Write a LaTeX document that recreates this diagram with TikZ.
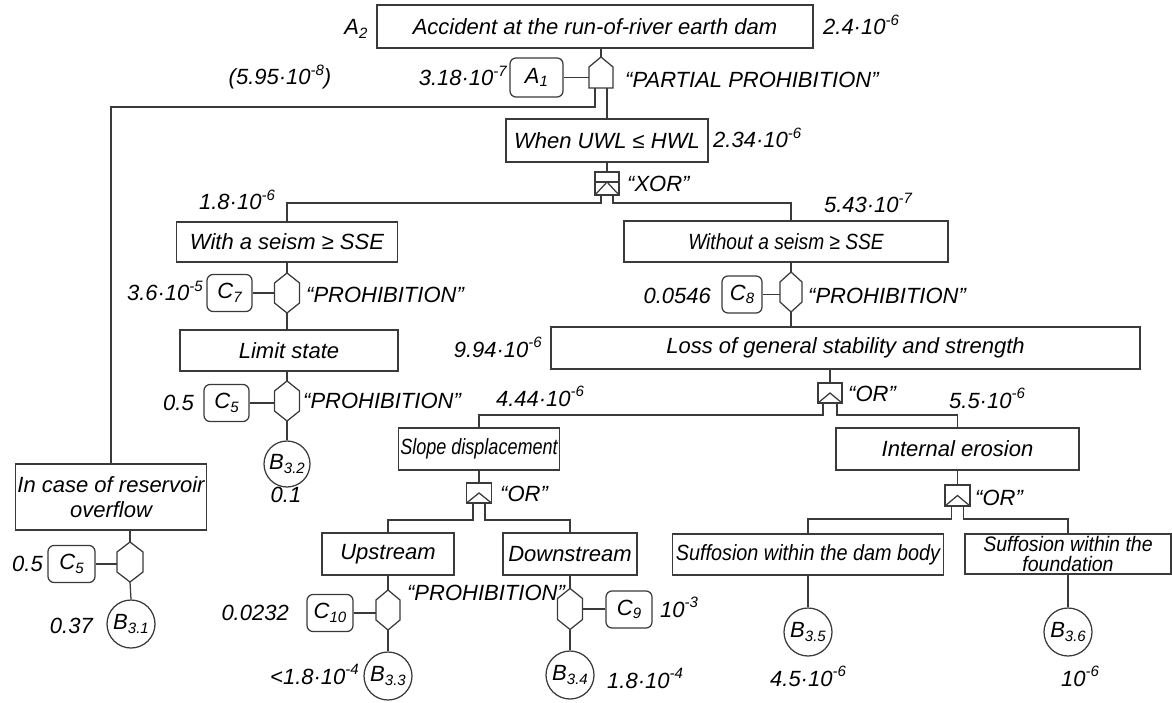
\documentclass[tikz,border=0pt]{standalone}
\usepackage{fontspec}
\usepackage{graphicx}
\setmainfont{Liberation Sans}
\usetikzlibrary{calc}
\definecolor{linec}{HTML}{3A3A3A}
% small lowered index and raised exponent
\newcommand\sbx[1]{\raisebox{-0.3ex}{\fontsize{15}{15}\selectfont #1}}
\newcommand\spx[1]{\raisebox{0.85ex}{\fontsize{15}{15}\selectfont #1}}
% horizontally condensed text
\newcommand\narrow[2]{\scalebox{#1}[1]{#2}}
% gate outlines drawn on invisible placeholder nodes
\newcommand\hexshape[1]{\draw[ln] (#1.north) -- ([yshift=-10pt]#1.north east) -- ([yshift=10pt]#1.south east) -- (#1.south) -- ([yshift=10pt]#1.south west) -- ([yshift=-10pt]#1.north west) -- cycle;}
\newcommand\orshape[1]{\draw[ln] (#1.south west) rectangle (#1.north east); \draw[ln] (#1.south west) -- (#1.center) -- (#1.south east);}
\newcommand\xorshape[1]{\draw[ln] (#1.south west) rectangle (#1.north east); \draw[ln] ([yshift=-10pt]#1.north west) -- ([yshift=-10pt]#1.north east); \draw[ln] (#1.south west) -- ([yshift=-10pt]#1.north) -- (#1.south east);}
\newcommand\houseshape[1]{\draw[ln] (#1.north) -- ([yshift=-10pt]#1.north east) -- (#1.south east) -- (#1.south west) -- ([yshift=-10pt]#1.north west) -- cycle;}
\tikzset{
  ln/.style={draw=linec, line width=1.25pt},
  ev/.style={draw=linec, line width=1.25pt, inner sep=0pt, align=center,
    font=\itshape\fontsize{22}{25}\selectfont},
  cb/.style={draw=linec, line width=1.25pt, rounded corners=6pt, minimum width=45pt,
    minimum height=37pt, inner sep=0pt, font=\itshape\fontsize{22}{25}\selectfont},
  bc/.style={draw=linec, line width=1.25pt, circle, minimum size=48pt, inner sep=0pt,
    font=\itshape\fontsize{22}{25}\selectfont},
  gt/.style={inner sep=0pt, outer sep=0pt},
  lb/.style={inner sep=0pt, text height=16pt, text depth=0pt,
    font=\itshape\fontsize{22}{25}\selectfont},
}
\begin{document}
\begin{tikzpicture}[x=1pt,y=-1pt]
\useasboundingbox[fill=white] (0,0) rectangle (1172,703);

% events
\node[ev, minimum width=436pt, minimum height=43pt] (top) at (595,26.5) {Accident at the run-of-river earth dam};
\node[ev, minimum width=202pt, minimum height=43pt] (uwl) at (607,140.5) {When UWL ≤ HWL};
\node[ev, minimum width=221pt, minimum height=40pt] (with) at (287,242) {With a seism ≥ SSE};
\node[ev, minimum width=324pt, minimum height=41pt] (without) at (786,241.5) {\narrow{0.87}{Without a seism ≥ SSE}};
\node[ev, minimum width=218pt, minimum height=41pt] (limit) at (289,350.5) {Limit state};
\node[ev, minimum width=589pt, minimum height=42pt] (loss) at (845.5,348) {Loss of general stability and strength};
\node[ev, minimum width=161pt, minimum height=42pt] (slope) at (479,449) {\narrow{0.82}{Slope displacement}};
\node[ev, minimum width=243pt, minimum height=42pt] (inter) at (957.5,449) {Internal erosion};
\node[ev, minimum width=132pt, minimum height=42pt] (up) at (388,554) {Upstream};
\node[ev, minimum width=134pt, minimum height=42pt] (down) at (570,554) {Downstream};
\node[ev, minimum width=271pt, minimum height=41pt] (sbody) at (808,554.5) {\narrow{0.9}{Suffosion within the dam body}};
\node[ev, minimum width=206pt, minimum height=40pt, font=\itshape\fontsize{21}{20}\selectfont] (sfound) at (1068,554) {\narrow{0.93}{Suffosion within the}\\\narrow{0.93}{foundation}};
\node[ev, minimum width=191pt, minimum height=66pt] (over) at (111,497) {In case of reservoir\\overflow};

% gates
\node[gt, minimum width=24pt, minimum height=31pt] (pg) at (601,72.5) {};
\node[gt, minimum width=24pt, minimum height=23pt] (xg) at (607,183.5) {};
\node[gt, minimum width=25pt, minimum height=40pt] (h7) at (287,293) {};
\node[gt, minimum width=25pt, minimum height=40pt] (h5a) at (287,401) {};
\node[gt, minimum width=22pt, minimum height=40pt] (h8) at (791,292) {};
\node[gt, minimum width=26pt, minimum height=40pt] (h5b) at (130,562) {};
\node[gt, minimum width=24pt, minimum height=40pt] (h10) at (388,610) {};
\node[gt, minimum width=25pt, minimum height=41pt] (h9) at (570,609) {};
\node[gt, minimum width=24pt, minimum height=20pt] (o1) at (830,393) {};
\node[gt, minimum width=25pt, minimum height=20pt] (o2) at (479,493) {};
\node[gt, minimum width=25pt, minimum height=21pt] (o3) at (957.5,495.5) {};
\houseshape{pg}
\xorshape{xg}
\hexshape{h7}
\hexshape{h5a}
\hexshape{h8}
\hexshape{h5b}
\hexshape{h10}
\hexshape{h9}
\orshape{o1}
\orshape{o2}
\orshape{o3}

% conditions
\node[cb, minimum width=53pt, minimum height=39pt] (a1) at (536.5,77.5) {A\sbx{1}};
\node[cb] (c7) at (229.5,293) {C\sbx{7}};
\node[cb, minimum width=40pt] (c8) at (742,294.5) {C\sbx{8}};
\node[cb] (c5a) at (226.5,403) {C\sbx{5}};
\node[cb, minimum width=47pt] (c5b) at (71.5,564) {C\sbx{5}};
\node[cb, minimum width=46pt] (c10) at (330,613) {C\sbx{10}};
\node[cb, minimum width=46pt] (c9) at (629,609.5) {C\sbx{9}};

% basic events
\node[bc] (b31) at (131,624) {B\sbx{3.1}};
\node[bc, minimum size=46pt] (b32) at (287,464) {B\sbx{3.2}};
\node[bc] (b33) at (388,676) {B\sbx{3.3}};
\node[bc] (b34) at (570,675) {B\sbx{3.4}};
\node[bc] (b35) at (808,632) {B\sbx{3.5}};
\node[bc] (b36) at (1068,632) {B\sbx{3.6}};

% connectors
\draw[ln] (pg.north |- top.south) -- (pg.north);
\draw[ln] (a1.east) -- (a1.east -| pg.west);
\draw[ln] ([xshift=-6pt]pg.south) -- ++(0,19) -| (over.north);
\draw[ln] ([xshift=6pt]pg.south) -- (uwl.north);
\draw[ln] (uwl.south) -- (xg.north);
\draw[ln] ([xshift=-6pt]xg.south) -- ++(0,8) -| (with.north);
\draw[ln] ([xshift=6pt]xg.south) -- ++(0,8) -| (h8.north |- without.north);
\draw[ln] (with.south) -- (h7.north);
\draw[ln] (c7.east) -- (c7.east -| h7.west);
\draw[ln] (h7.south) -- (h7.south |- limit.north);
\draw[ln] (h5a.north |- limit.south) -- (h5a.north);
\draw[ln] (c5a.east) -- (c5a.east -| h5a.west);
\draw[ln] (h5a.south) -- (b32.north);
\draw[ln] (h8.north |- without.south) -- (h8.north);
\draw[ln] (c8.east) -- (c8.east -| h8.west);
\draw[ln] (h8.south) -- (h8.south |- loss.north);
\draw[ln] (o1.north |- loss.south) -- (o1.north);
\draw[ln] ([xshift=-7pt]o1.south) -- ++(0,12) -| (slope.north);
\draw[ln] ([xshift=7pt]o1.south) -- ++(0,12) -| (inter.north);
\draw[ln] (slope.south) -- (o2.north);
\draw[ln] ([xshift=-6pt]o2.south) -- ++(0,17) -| (up.north);
\draw[ln] ([xshift=6pt]o2.south) -- ++(0,17) -| (down.north);
\draw[ln] (up.south) -- (h10.north);
\draw[ln] (c10.east) -- (c10.east -| h10.west);
\draw[ln] (h10.south) -- (b33.north);
\draw[ln] (down.south) -- (h9.north);
\draw[ln] (h9.east) -- (h9.east -| c9.west);
\draw[ln] (h9.south) -- (b34.north);
\draw[ln] (inter.south) -- (o3.north);
\draw[ln] ([xshift=-6pt]o3.south) -- ++(0,13) -| (sbody.north);
\draw[ln] ([xshift=6pt]o3.south) -- ++(0,13) -| (sfound.north);
\draw[ln] (sbody.south) -- (b35.north);
\draw[ln] (sfound.south) -- (b36.north);
\draw[ln] (over.south -| h5b.north) -- (h5b.north);
\draw[ln] (c5b.east) -- (c5b.east -| h5b.west);
\draw[ln] (h5b.south) -- (b31.north);

% probabilities and gate labels
\node[lb] (lA2) at (356,27) {A\sbx{2}};
\node[lb] (l1) at (861,27) {2.4·10\spx{-6}};
\node[lb] (l2) at (280,77) {(5.95·10\spx{-8})};
\node[lb, anchor=east] (l3) at (507,78) {3.18·10\spx{-7}};
\node[lb, anchor=west] (l4) at (625,80) {“PARTIAL PROHIBITION”};
\node[lb, anchor=west] (l5) at (713,140) {2.34·10\spx{-6}};
\node[lb, anchor=west] (l6) at (627,184) {“XOR”};
\node[lb] (l7) at (237,202) {1.8·10\spx{-6}};
\node[lb] (l8) at (868,205) {5.43·10\spx{-7}};
\node[lb, anchor=east] (l9) at (203,293) {3.6·10\spx{-5}};
\node[lb, anchor=west] (l10) at (306,294) {“PROHIBITION”};
\node[lb, anchor=east] (l11) at (711,295) {0.0546};
\node[lb, anchor=west] (l12) at (808,295) {“PROHIBITION”};
\node[lb, anchor=east] (l13) at (542,349) {9.94·10\spx{-6}};
\node[lb, anchor=east] (l14) at (194,402) {0.5};
\node[lb, anchor=west] (l15) at (303,400) {“PROHIBITION”};
\node[lb] (l16) at (540,398) {4.44·10\spx{-6}};
\node[lb] (l17) at (987,400) {5.5·10\spx{-6}};
\node[lb, anchor=west] (l18) at (848,393) {“OR”};
\node[lb] (l19) at (286,494) {0.1};
\node[lb, anchor=west] (l20) at (500,493) {“OR”};
\node[lb, anchor=west] (l21) at (975,497) {“OR”};
\node[lb, anchor=east] (l22) at (43,563) {0.5};
\node[lb] (l23) at (486,592) {“PROHIBITION”};
\node[lb, anchor=west] (l24) at (660,609) {10\spx{-3}};
\node[lb, anchor=east] (l25) at (289,612) {0.0232};
\node[lb, anchor=east] (l26) at (93,625) {0.37};
\node[lb, anchor=east] (l27) at (359,676) {<1.8·10\spx{-4}};
\node[lb, anchor=west] (l28) at (607,680) {1.8·10\spx{-4}};
\node[lb] (l29) at (808,678) {4.5·10\spx{-6}};
\node[lb] (l30) at (1080,678) {10\spx{-6}};
\end{tikzpicture}
\end{document}
